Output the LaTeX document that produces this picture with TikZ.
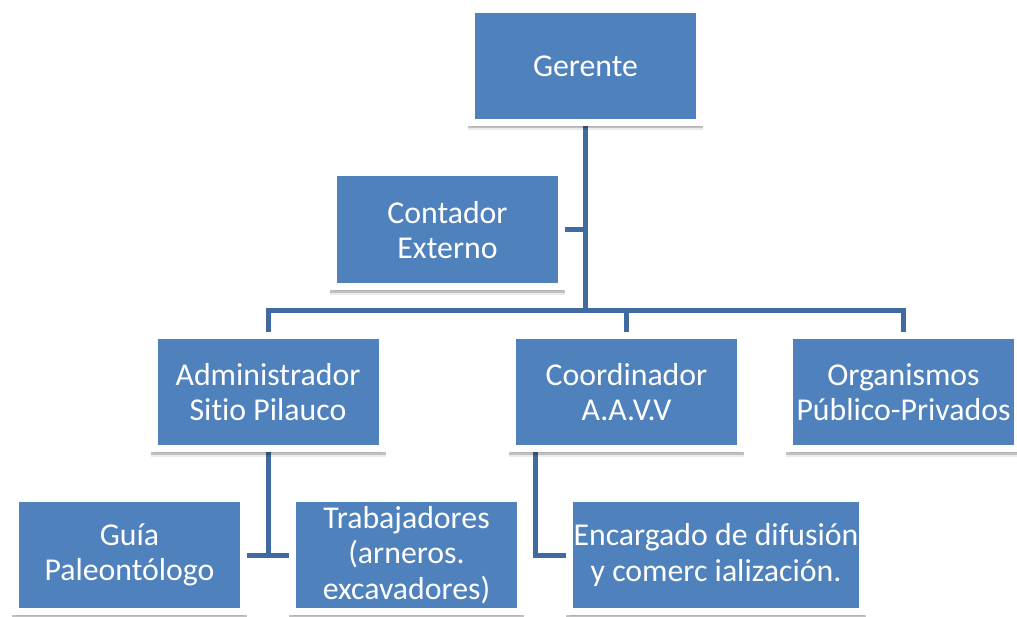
\documentclass[tikz,border=0pt]{standalone}
\usepackage{fontspec}
\setmainfont{Carlito}[Ligatures = NoCommon]
\usetikzlibrary{positioning,shadows}
\pgfdeclarelayer{bg}
\pgfsetlayers{bg,main}
\definecolor{cajaazul}{RGB}{79,129,189}
\definecolor{lineaazul}{RGB}{64,107,160}
\tikzset{
	x = 1pt,
	y = -1pt
}

\begin{document}
\begin{tikzpicture}[
	node distance = 49pt,
	every node/.style = {
		font = \fontsize{31.8pt}{35.5pt}\selectfont
	},
	puesto/.style = {
		draw = white,
		line width = 7pt,
		fill = cajaazul,
		text = white,
		align = center,
		minimum width = 228pt,
		minimum height = 113pt,
		inner sep = 0pt,
		outer sep = 0pt,
		drop shadow = {shadow xshift = 0pt, shadow yshift = -4.5pt,
			opacity = 0.08, fill = black, draw = black},
		drop shadow = {shadow xshift = 0pt, shadow yshift = -2.5pt,
			opacity = 0.18, fill = black, draw = black}
	},
	enlace/.style = {
		draw = lineaazul,
		line width = 5pt
	}
	]

	\useasboundingbox (0,0) rectangle (1017,617);

	\node[puesto] (gerente) at (585.5,66) {Gerente};
	\node[puesto, minimum height = 114pt, below left = 50.5pt and -90pt of gerente] (contador) {Contador\\Externo};
	\node[puesto, below = 213pt of gerente, xshift = 41pt] (coordinador) {Coordinador\\A.A.V.V};
	\node[puesto, left = 130.5pt of coordinador] (admin) {Administrador\\Sitio Pilauco};
	\node[puesto, right = of coordinador] (organismos) {Organismos\\Público-Privados};
	\node[puesto, below left = 50pt and -89.5pt of admin] (guia) {Guía\\Paleontólogo};
	\node[puesto, right = of guia] (trabajadores) {Trabajadores\\(arneros.\\excavadores)};
	\node[puesto, minimum width = 293pt, right = of trabajadores] (encargado) {Encargado de difusión\\y comerc ialización.};
	\coordinate[below = 188.5pt of gerente] (bus);

	\begin{pgfonlayer}{bg}
		\draw[enlace] (gerente) -- (bus);
		\draw[enlace] (contador) -- (contador -| bus);
		\draw[enlace] (admin) |- (bus) -| (organismos);
		\draw[enlace] (coordinador) -- (coordinador |- bus);
		\draw[enlace] (admin) -- (admin |- guia);
		\draw[enlace] (guia) -- (trabajadores);
		\draw[enlace] ([xshift = 22.5pt]coordinador.south west) |- (encargado);
	\end{pgfonlayer}

\end{tikzpicture}
\end{document}
